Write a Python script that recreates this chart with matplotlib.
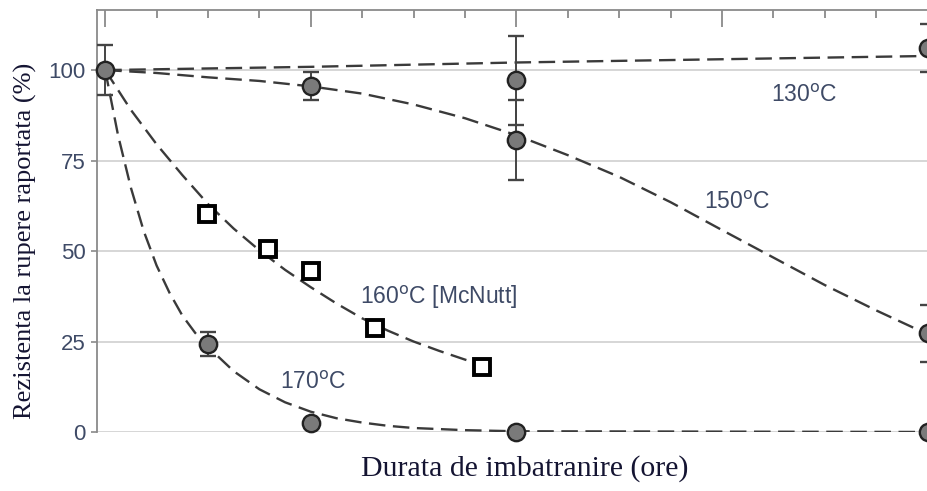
import matplotlib
matplotlib.use("Agg")
import matplotlib.pyplot as plt

# ---- data (x in axis units, one top tick per unit) ----
c130_x = [0, 8, 16]
c130_y = [100, 97.2, 106.1]
c130_err = [7, 12.3, 6.5]

c150_x = [4, 8, 16]
c150_y = [95.6, 80.7, 27.3]
c150_err = [4, 11, 7.9]

c170_x = [2, 4, 8, 16]
c170_y = [24.3, 2.5, 0, 0]
c170_err = [3.2, 0, 0, 0]

sq160_x = [1.98, 3.16, 4.01, 5.25, 7.33]
sq160_y = [60.2, 50.6, 44.5, 28.8, 18.0]

# dashed fit curves
fit130_x = [0, 4, 8, 12, 16]
fit130_y = [100, 100.9, 102.1, 103.0, 103.9]

fit150_x = [0, 1, 2, 3, 4, 5, 6, 7, 8, 9, 10, 11, 12, 13, 14, 15, 16]
fit150_y = [100, 99.2, 98, 97, 95.5, 93.5, 90.5, 86.7, 82, 76.5, 70.5, 63.5, 55.8, 48.2, 40.6, 33.6, 27]

fit160_x = [0, 0.5, 1, 1.5, 2, 2.5, 3, 3.5, 4, 4.5, 5, 5.5, 6, 6.5, 7, 7.33]
fit160_y = [100, 89, 79.5, 71, 63, 56.2, 50.2, 44.8, 40, 35.5, 31.4, 28, 25, 22.4, 20, 18.5]

fit170_x = [0, 0.25, 0.5, 0.75, 1, 1.25, 1.5, 1.75, 2, 2.5, 3, 3.5, 4, 4.5, 5, 5.5, 6, 7, 8, 16]
fit170_y = [100, 82, 67.5, 55.5, 46, 38.5, 32.2, 27.4, 23.5, 16.8, 11.8, 8.2, 5.6, 3.8, 2.6, 1.7, 1.1, 0.5, 0.2, 0]

yticks = [0, 25, 50, 75, 100]
labels = ["130$^{\\mathrm{o}}$C", "150$^{\\mathrm{o}}$C",
          "160$^{\\mathrm{o}}$C [McNutt]", "170$^{\\mathrm{o}}$C"]
label_pos = [(13.6, 93.1), (12.3, 63.5), (6.48, 37.3), (4.05, 13.8)]

ylabel = "Rezistenta la rupere raportata (%)"
xlabel = "Durata de imbatranire (ore)"

# ---- figure ----
fig = plt.figure(figsize=(9.27, 4.91), dpi=100)
ax = fig.add_axes([0.1046, 0.1202, 0.9293, 0.8594])
ax.set_xlim(-0.16, 16.6)
ax.set_ylim(0, 116.6)

grey = "#8a8a8a"
txtc = "#3e4a66"

for s in ["right", "bottom"]:
    ax.spines[s].set_visible(False)
for s in ["left", "top"]:
    ax.spines[s].set_color(grey)
    ax.spines[s].set_linewidth(1.3)

ax.set_yticks(yticks)
ax.yaxis.grid(True, color="#cfcfcf", lw=1.2)
ax.set_axisbelow(True)
ax.tick_params(axis="y", direction="out", length=4, color=grey, width=1.2,
               labelsize=16, labelcolor=txtc, pad=4)
for t in ax.get_yticklabels():
    t.set_fontfamily("Liberation Sans")

ax.xaxis.set_ticks_position("top")
ax.set_xticks([0, 4, 8, 12, 16])
ax.set_xticks(range(0, 17), minor=True)
ax.tick_params(axis="x", which="major", direction="in", length=12, width=1.3,
               color=grey, labeltop=False, labelbottom=False)
ax.tick_params(axis="x", which="minor", direction="in", length=6, width=1.3,
               color=grey, labeltop=False, labelbottom=False)

dash = dict(color="#3a3a3a", lw=1.7, dashes=(7, 3.2), zorder=2)
ax.plot(fit130_x, fit130_y, **dash)
ax.plot(fit150_x, fit150_y, **dash)
ax.plot(fit160_x, fit160_y, **dash)
ax.plot(fit170_x, fit170_y, **dash)

circ = dict(fmt="o", ms=12.5, mfc="#7a7a7a", mec="#222222", mew=1.7,
            ecolor="#444444", elinewidth=1.4, capsize=6, capthick=1.4, zorder=4)
for xs, ys, es in [(c130_x, c130_y, c130_err), (c150_x, c150_y, c150_err),
                   (c170_x, c170_y, c170_err)]:
    e = ax.errorbar(xs, ys, yerr=es, **circ)
    for art in e.get_children():
        art.set_clip_on(False)

ax.plot(sq160_x, sq160_y, "s", ms=11.5, mfc="white", mec="black", mew=2.8,
        zorder=5, clip_on=False)

for (x, y), lab in zip(label_pos, labels):
    ax.text(x, y, lab, ha="center", va="center", fontsize=16.5, color=txtc,
            family="Liberation Sans")

fig.text(0.027, 0.51, ylabel, rotation=90, ha="center", va="center",
         fontsize=19, family="Liberation Serif", color="#141432")
fig.text(0.566, 0.045, xlabel, ha="center", va="center",
         fontsize=21.5, family="Liberation Serif", color="#141432")

fig.savefig("out.png", dpi=100)
